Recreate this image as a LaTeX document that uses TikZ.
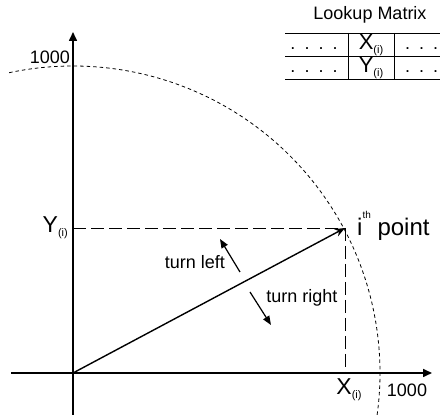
\documentclass[tikz,border=0pt]{standalone}
\usepackage{fontspec}
\setmainfont{Liberation Sans}
\usetikzlibrary{arrows.meta}
\newcommand{\sub}[1]{\raisebox{-0.3ex}{\fontsize{11}{11}\selectfont #1}}
\newcommand{\super}[1]{\raisebox{1.3ex}{\fontsize{10}{10}\selectfont #1}}
\tikzset{
  lbl/.style  ={font=\fontsize{18}{20}\selectfont, inner sep=1pt},
  big/.style  ={font=\fontsize{23}{25}\selectfont, inner sep=1pt},
  axis/.style ={line width=1.6pt, -{Triangle[length=9pt,width=8pt]}},
  guide/.style={line width=0.9pt, dash pattern=on 13pt off 5pt},
  circ/.style ={line width=0.8pt, dash pattern=on 3.5pt off 3pt},
  vec/.style  ={line width=1.4pt, -{Stealth[length=10pt,width=8pt]}},
  turn/.style ={line width=1.2pt, -{Triangle[length=9pt,width=7pt]}},
  grid/.style ={line width=0.8pt},
}
\begin{document}
\begin{tikzpicture}[x=1pt,y=1pt]
  \useasboundingbox (0,0) rectangle (440,415);
  % axes and the circle of radius 1000
  \coordinate (O) at (73,42);
  \coordinate (xs) at (11,42);
  \coordinate (xe) at (432,42);
  \coordinate (ys) at (73,0);
  \coordinate (ye) at (73,383);
  \coordinate (P) at (345,187);
  \coordinate (Px) at (345,42);
  \coordinate (Py) at (73,187);
  \draw[axis] (xs) -- (xe);
  \draw[axis] (ys) -- (ye);
  \draw[circ] (O) ++(102:307) arc[start angle=102, end angle=-8, radius=307];
  \draw[guide] (Py) -- (P);
  \draw[guide] (P) -- (Px);
  \draw[vec] (O) -- (P);
  % labels on the axes
  \node[lbl, anchor=east] (ytop) at (71,358) {1000};
  \node[lbl] (xright) at (407,25) {1000};
  \node[big] (xi) at (349,25) {X\sub{(i)}};
  \node[big, anchor=east] (yi) at (69,187) {Y\sub{(i)}};
  \node[big, anchor=west, font=\fontsize{24}{26}\selectfont] (pt) at (356,189) {i\super{th} point};
  % turning directions
  \node[lbl] (tl) at (195,153) {turn left};
  \coordinate (tla) at (240,143);
  \coordinate (tlb) at (220,176);
  \draw[turn] (tla) -- (tlb);
  \node[lbl] (tr) at (302,117) {turn right};
  \coordinate (tra) at (250,123);
  \coordinate (trb) at (271,90);
  \draw[turn] (tra) -- (trb);
  % lookup matrix
  \node[lbl] (title) at (370,400) {Lookup Matrix};
  \foreach \y in {382,359,336}
    \draw[grid] (285,\y) -- (440,\y);
  \foreach \x in {348,394}
    \draw[grid] (\x,382) -- (\x,336);
  \node[lbl] (x0) at (314,366) {.\hspace{9pt}.\hspace{9pt}.\hspace{9pt}.};
  \node[big, font=\fontsize{22}{24}\selectfont] (xc) at (371,370) {X\sub{(i)}};
  \node[lbl, anchor=west] (x1) at (404,366) {.\hspace{9pt}.\hspace{9pt}.};
  \node[lbl] (y0) at (314,343) {.\hspace{9pt}.\hspace{9pt}.\hspace{9pt}.};
  \node[big, font=\fontsize{22}{24}\selectfont] (yc) at (371,347) {Y\sub{(i)}};
  \node[lbl, anchor=west] (y1) at (404,343) {.\hspace{9pt}.\hspace{9pt}.};
\end{tikzpicture}
\end{document}
